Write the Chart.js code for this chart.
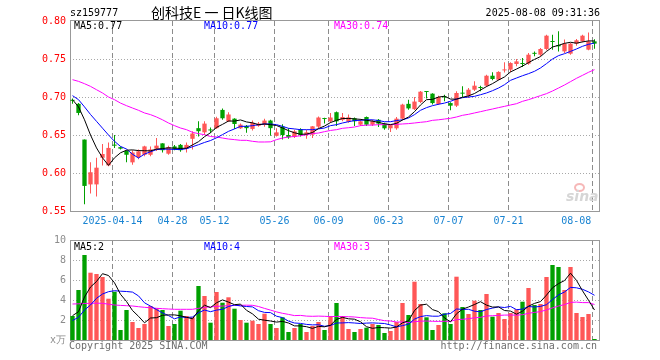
<!DOCTYPE html>
<html><head><meta charset="utf-8">
<script src="https://cdn.jsdelivr.net/npm/chart.js@4.4.1/dist/chart.umd.min.js"></script>
<style>
html,body{margin:0;padding:0;background:#fff;}
#wrap{position:relative;width:660px;height:360px;overflow:hidden;background:#fff;}
canvas{position:absolute;left:0;top:0;}
.t{position:absolute;white-space:pre;font-family:"DejaVu Sans Mono",monospace;font-size:10px;line-height:12px;color:#000;}
</style></head><body>
<div id="wrap">
<canvas id="pc" width="660" height="360"></canvas>
<canvas id="vc" width="660" height="360"></canvas>
<div class="t" style="left:70px;top:7px;">sz159777</div>
<div class="t" style="left:151px;top:3px;font-family:'Noto Sans CJK SC',sans-serif;font-size:14px;line-height:18px;">创科技E 一 日K线图</div>
<div class="t" style="right:60px;top:7px;">2025-08-08 09:31:36</div>
<div class="t" style="left:74px;top:20px;color:#000;">MA5:0.77</div>
<div class="t" style="left:204px;top:20px;color:#0000ff;">MA10:0.77</div>
<div class="t" style="left:334px;top:20px;color:#ff00ff;">MA30:0.74</div>
<div class="t" style="left:74px;top:241px;color:#000;">MA5:2</div>
<div class="t" style="left:204px;top:241px;color:#0000ff;">MA10:4</div>
<div class="t" style="left:334px;top:241px;color:#ff00ff;">MA30:3</div>
<div class="t" style="left:69px;top:340px;color:#6e6e6e;">Copyright 2025 SINA.COM</div>
<div class="t" style="right:63px;top:340px;color:#6e6e6e;">http://finance.sina.com.cn</div>
<div style="position:absolute;left:574px;top:183px;width:7px;height:5px;border:2px solid #f6b8b8;border-radius:50%;"></div>
<div class="t" style="left:566px;top:189px;font-family:'DejaVu Sans',sans-serif;font-style:italic;font-weight:bold;font-size:14px;line-height:14px;color:#d6d6d6;">sina</div>
</div>
<script>
// ---------- data ----------
const dates = ['04-02','04-03','04-07','04-08','04-09','04-10','04-11','04-14','04-15','04-16',
'04-17','04-18','04-21','04-22','04-23','04-24','04-25','04-28','04-29','04-30',
'05-06','05-07','05-08','05-09','05-12','05-13','05-14','05-15','05-16','05-19',
'05-20','05-21','05-22','05-23','05-26','05-27','05-28','05-29','05-30','06-03',
'06-04','06-05','06-06','06-09','06-10','06-11','06-12','06-13','06-16','06-17',
'06-18','06-19','06-20','06-23','06-24','06-25','06-26','06-27','06-30','07-01',
'07-02','07-03','07-04','07-07','07-08','07-09','07-10','07-11','07-14','07-15',
'07-16','07-17','07-18','07-21','07-22','07-23','07-24','07-25','07-28','07-29',
'07-30','07-31','08-01','08-04','08-05','08-06','08-07','08-08'];

const openP = [0.696,0.691,0.644,0.585,0.585,0.620,0.610,0.637,0.634,0.629,
0.614,0.621,0.624,0.624,0.632,0.639,0.6254,0.635,0.637,0.632,
0.645,0.659,0.6535,0.657,0.659,0.683,0.668,0.6715,0.6588,0.662,
0.658,0.662,0.6636,0.669,0.649,0.661,0.650,0.6474,0.6579,0.6505,
0.6505,0.661,0.672,0.668,0.680,0.670,0.6675,0.672,0.6636,0.6737,
0.6636,0.670,0.665,0.6588,0.6588,0.6715,0.691,0.684,0.6934,0.7075,
0.7044,0.6908,0.6998,0.692,0.6886,0.7046,0.7018,0.7096,0.7119,0.7149,
0.728,0.7228,0.735,0.736,0.7434,0.7436,0.7439,0.757,0.7557,0.7632,
0.7726,0.7684,0.760,0.757,0.7702,0.7732,0.7623,0.7732];
const highP = [0.698,0.692,0.644,0.614,0.620,0.638,0.640,0.650,0.635,0.630,
0.630,0.631,0.636,0.635,0.646,0.639,0.636,0.637,0.638,0.640,
0.655,0.668,0.668,0.660,0.674,0.685,0.680,0.672,0.665,0.663,
0.669,0.667,0.6715,0.670,0.659,0.664,0.659,0.657,0.659,0.657,
0.662,0.6745,0.6728,0.679,0.681,0.679,0.677,0.673,0.671,0.6745,
0.670,0.671,0.666,0.6636,0.6737,0.691,0.6965,0.700,0.708,0.7075,
0.705,0.7018,0.703,0.693,0.7075,0.714,0.712,0.7206,0.7149,0.7294,
0.7325,0.7338,0.7456,0.7456,0.750,0.7513,0.758,0.760,0.7645,0.782,
0.782,0.7864,0.7755,0.771,0.7763,0.782,0.785,0.776];
const lowP = [0.691,0.676,0.559,0.573,0.569,0.610,0.609,0.633,0.631,0.614,
0.611,0.618,0.622,0.622,0.629,0.627,0.624,0.630,0.628,0.627,
0.631,0.648,0.650,0.6526,0.658,0.670,0.667,0.658,0.658,0.653,
0.656,0.661,0.661,0.649,0.648,0.644,0.645,0.646,0.648,0.645,
0.646,0.659,0.665,0.666,0.662,0.668,0.666,0.662,0.662,0.662,
0.662,0.6605,0.657,0.654,0.657,0.670,0.6833,0.683,0.692,0.698,
0.690,0.6895,0.6943,0.6825,0.6868,0.700,0.6987,0.708,0.7075,0.7132,
0.7219,0.7219,0.7321,0.7325,0.7404,0.7395,0.7425,0.7535,0.7535,0.7614,
0.7623,0.760,0.758,0.7557,0.7675,0.772,0.7614,0.7636];
const closeP = [0.695,0.679,0.583,0.601,0.607,0.625,0.633,0.636,0.632,0.624,
0.627,0.6285,0.635,0.631,0.636,0.630,0.634,0.632,0.630,0.637,
0.652,0.655,0.665,0.656,0.672,0.672,0.677,0.6645,0.6636,0.659,
0.666,0.665,0.669,0.659,0.6535,0.650,0.647,0.6548,0.650,0.6535,
0.6614,0.673,0.671,0.673,0.668,0.6737,0.6732,0.668,0.668,0.6636,
0.668,0.665,0.6588,0.663,0.6715,0.690,0.685,0.694,0.707,0.7066,
0.692,0.700,0.6995,0.6886,0.7053,0.7044,0.7096,0.7149,0.7118,0.728,
0.7237,0.733,0.7355,0.7447,0.7469,0.7434,0.7557,0.7568,0.7632,0.7807,
0.7724,0.7667,0.7702,0.7702,0.7746,0.7807,0.7732,0.7702];

const ma5 = [0.6965,0.687,0.670,0.650,0.633,0.620,0.610,0.620,0.6266,0.630,
0.6304,0.6295,0.6293,0.6291,0.6315,0.6321,0.6332,0.6326,0.6324,0.6326,
0.637,0.6412,0.6478,0.653,0.660,0.664,0.6684,0.6683,0.6698,0.6672,
0.666,0.6636,0.6645,0.6636,0.6625,0.6593,0.6557,0.6529,0.651,0.6511,
0.6533,0.6585,0.6618,0.6664,0.6693,0.6717,0.6718,0.6712,0.6706,0.6693,
0.6682,0.6666,0.6647,0.6637,0.6653,0.6697,0.6737,0.6807,0.6895,0.6965,
0.6969,0.6999,0.701,0.6973,0.6971,0.6996,0.7015,0.7046,0.7092,0.7137,
0.7176,0.7223,0.7264,0.733,0.7368,0.7407,0.7452,0.7495,0.7532,0.760,
0.7658,0.768,0.7706,0.772,0.7708,0.7725,0.7738,0.7738];
const ma10 = [0.7018,0.6965,0.687,0.677,0.668,0.659,0.650,0.6417,0.635,0.6315,
0.6247,0.6197,0.6249,0.6279,0.6308,0.6313,0.6314,0.631,0.6308,0.632,
0.6346,0.6372,0.6402,0.6427,0.6463,0.6505,0.6548,0.658,0.6614,0.6614,
0.6623,0.6636,0.6645,0.6645,0.6636,0.6614,0.6588,0.658,0.657,0.657,
0.657,0.658,0.6592,0.6623,0.6636,0.6658,0.6675,0.669,0.6693,0.670,
0.670,0.669,0.6675,0.6675,0.669,0.670,0.6724,0.6768,0.6825,0.686,
0.6886,0.6904,0.692,0.6943,0.6974,0.6991,0.700,0.7009,0.703,0.7053,
0.7083,0.7118,0.7162,0.7219,0.725,0.728,0.7307,0.7338,0.7382,0.7439,
0.750,0.7544,0.757,0.760,0.7632,0.7667,0.7693,0.771];
const ma30 = [0.7228,0.7206,0.7175,0.714,0.7096,0.7053,0.700,0.6965,0.692,0.6886,
0.6855,0.6825,0.679,0.6768,0.6737,0.670,0.6658,0.6623,0.6592,0.657,
0.6535,0.6518,0.6504,0.648,0.6474,0.646,0.6447,0.6439,0.643,0.643,
0.6417,0.6408,0.6408,0.641,0.6439,0.646,0.6474,0.648,0.649,0.6504,
0.6518,0.6526,0.6544,0.656,0.657,0.6588,0.6596,0.6605,0.6623,0.663,
0.663,0.6636,0.6636,0.6636,0.664,0.6645,0.665,0.6658,0.6667,0.6675,
0.6693,0.670,0.671,0.672,0.6737,0.6759,0.6772,0.679,0.6807,0.6825,
0.6842,0.686,0.6877,0.6895,0.6912,0.6943,0.6965,0.6991,0.7018,0.7044,
0.7079,0.7118,0.7158,0.7202,0.7246,0.7285,0.7325,0.736];

const volume = [2.4,5.0,8.5,6.73,6.6,6.3,4.13,4.83,1.0,3.0,
1.8,1.2,1.6,3.4,3.17,3.0,1.4,1.6,2.93,2.4,
2.27,5.4,4.4,1.73,4.8,3.73,4.27,3.13,2.0,1.73,
1.93,1.6,2.63,1.6,1.2,2.27,0.8,1.2,1.6,0.8,
1.4,1.8,1.0,2.4,3.7,2.4,1.1,0.8,1.1,1.23,
1.6,1.5,0.7,0.9,1.8,3.7,2.5,5.83,3.6,2.27,
1.0,1.5,2.67,1.6,6.33,3.3,2.6,3.93,3.0,4.6,
2.33,2.7,2.1,2.7,3.07,3.83,5.2,3.5,3.6,6.3,
7.5,7.3,5.0,7.3,2.7,2.3,2.6,0.1];
const volMa5 = [2.43,2.83,4.3,5.3,5.85,6.63,6.45,5.72,4.57,3.85,
2.95,2.37,1.72,2.2,2.23,2.47,2.51,2.51,2.42,2.27,
2.12,2.92,3.48,3.24,3.72,4.01,3.79,3.53,3.59,2.97,
2.61,2.08,1.98,1.9,1.79,1.86,1.7,1.41,1.41,1.33,
1.16,1.36,1.32,1.48,2.06,2.26,2.12,2.08,1.82,1.33,
1.17,1.25,1.23,1.19,1.3,1.72,1.92,2.95,3.49,3.58,
3.04,2.84,2.21,1.81,2.62,3.08,3.3,3.55,3.83,3.49,
3.29,3.31,2.95,2.89,2.58,2.88,3.38,3.66,3.84,4.49,
5.22,5.64,5.94,6.68,5.96,4.92,3.98,3.0];
const volMa10 = [1.95,2.27,3.0,3.5,4.17,4.6,4.83,4.93,4.88,4.85,
4.79,4.41,3.72,3.39,3.04,2.71,2.44,2.12,2.31,2.25,
2.3,2.72,3.0,2.83,2.99,3.07,3.35,3.5,3.41,3.35,
3.31,2.93,2.76,2.74,2.38,2.24,1.89,1.7,1.66,1.56,
1.51,1.53,1.37,1.45,1.7,1.71,1.74,1.7,1.65,1.69,
1.71,1.68,1.65,1.5,1.31,1.44,1.58,2.09,2.34,2.44,
2.38,2.38,2.58,2.65,3.1,3.06,3.07,2.88,2.82,3.05,
3.19,3.31,3.25,3.36,3.03,3.09,3.35,3.3,3.36,3.53,
4.05,4.51,4.8,5.26,5.22,5.07,4.81,4.47];
const volMa30 = [3.6,3.62,3.65,3.67,3.68,3.67,3.58,3.5,3.46,3.43,
3.4,3.33,3.27,3.22,3.17,3.13,3.1,3.07,3.07,3.07,
3.07,3.17,3.27,3.31,3.36,3.4,3.43,3.45,3.47,3.48,
3.47,3.35,3.16,2.99,2.81,2.67,2.56,2.44,2.46,2.39,
2.37,2.39,2.37,2.34,2.36,2.34,2.33,2.3,2.24,2.2,
2.18,2.05,1.93,1.9,1.8,1.8,1.74,1.83,1.88,1.9,
1.87,1.86,1.87,1.87,2.04,2.07,2.13,2.22,2.27,2.4,
2.43,2.46,2.49,2.5,2.48,2.53,2.67,2.76,2.84,3.01,
3.21,3.4,3.54,3.76,3.79,3.74,3.74,3.55];

const dateTickDates = ['04-14','04-28','05-12','05-26','06-09','06-23','07-07','07-21','08-08'];
const dateTickLabels = ['2025-04-14','04-28','05-12','05-26','06-09','06-23','07-07','07-21','08-08'];
const priceTicks = [0.55,0.60,0.65,0.70,0.75,0.80];
const priceGrid = [0.60,0.65,0.70,0.75];
const volTicks = [0,2,4,6,8,10];
const volTickLabels = ['x万','2','4','6','8','10'];
const volGrid = [2,4,6,8];

// ---------- styling ----------
const RED = '#ff5757', GREEN = '#00a000';
const MONO = "'DejaVu Sans Mono', monospace";
const tickIdx = dateTickDates.map(d => dates.indexOf(d));
const LINE_SHIFT = 1/3;               // date line sits 2px left of candle centre
const X_MIN = -2.5/6, X_MAX = 87.75;  // 6px per trading day
const colors = dates.map((_, i) => closeP[i] >= openP[i] ? RED : GREEN);
const pts = arr => arr.map((v, i) => ({x: i, y: v}));
const vLinePos = tickIdx.map(i => i - LINE_SHIFT);

function makeGridPlugin(hVals, topOff) {
  return {
    id: 'sinaGrid',
    beforeDatasetsDraw(chart) {
      const ctx = chart.ctx, a = chart.chartArea;
      const x = chart.scales.x, y = chart.scales.y;
      ctx.save();
      ctx.lineWidth = 1;
      ctx.strokeStyle = '#a8a8a8';
      ctx.setLineDash([1, 2]);
      hVals.forEach(v => {
        const py = Math.floor(y.getPixelForValue(v)) + 0.5;
        ctx.beginPath(); ctx.moveTo(a.left, py); ctx.lineTo(a.right, py); ctx.stroke();
      });
      ctx.restore();
      ctx.save();
      ctx.lineWidth = 1;
      ctx.strokeStyle = '#8c8c8c';
      ctx.setLineDash([5, 3]);
      vLinePos.forEach(v => {
        const px = Math.floor(x.getPixelForValue(v)) + 0.5;
        ctx.beginPath(); ctx.moveTo(px, a.top); ctx.lineTo(px, a.bottom); ctx.stroke();
      });
      ctx.restore();
      ctx.save();
      ctx.lineWidth = 1;
      ctx.strokeStyle = '#999999';
      const top = a.top + topOff;
      ctx.strokeRect(a.left + 0.5, top, a.right - a.left, a.bottom + 0.5 - top);
      ctx.restore();
    }
  };
}

const lineDs = (arr, color) => ({type: 'line', data: pts(arr), borderColor: color, borderWidth: 1,
  pointRadius: 0, tension: 0, fill: false, order: 0});

const yAfterFit = s => { s.width = 70; s.paddingTop = 0; s.paddingBottom = 0; };

// ---------- price chart ----------
new Chart(document.getElementById('pc'), {
  type: 'bar',
  data: { datasets: [
    lineDs(ma5, '#000000'),
    lineDs(ma10, '#0000ff'),
    lineDs(ma30, '#ff00ff'),
    {type: 'bar', data: dates.map((_, i) => ({x: i, y: [openP[i], closeP[i]]})),
     backgroundColor: colors, grouped: false, maxBarThickness: 5, minBarLength: 1, inflateAmount: 0, borderWidth: 0, order: 1},
    {type: 'bar', data: dates.map((_, i) => ({x: i, y: [lowP[i], highP[i]]})),
     backgroundColor: colors, grouped: false, maxBarThickness: 1, inflateAmount: 0, borderWidth: 0, order: 2}
  ]},
  options: {
    responsive: false, animation: false, devicePixelRatio: 1, events: [],
    layout: {padding: {left: 0, right: 61, top: 21, bottom: 129}, autoPadding: false},
    plugins: {legend: {display: false}, tooltip: {enabled: false}},
    scales: {
      x: {type: 'linear', position: 'bottom', min: X_MIN, max: X_MAX, offset: false,
        grid: {display: false, drawTicks: false, offset: false}, border: {display: false},
        afterBuildTicks: s => { s.ticks = tickIdx.map((i, k) => ({value: i - LINE_SHIFT - (k === tickIdx.length - 1 ? 2.72 : 0)})); },
        afterFit: s => { s.height = 20; s.paddingLeft = 0; s.paddingRight = 0; },
        ticks: {autoSkip: false, maxRotation: 0, minRotation: 0, padding: 4, color: '#1a84d2',
          font: {family: MONO, size: 10}, callback: (v, k) => dateTickLabels[k]}},
      y: {type: 'linear', position: 'left', min: 0.55, max: 0.80,
        grid: {display: false, drawTicks: false}, border: {display: false},
        afterBuildTicks: s => { s.ticks = priceTicks.map(v => ({value: v})); },
        afterFit: yAfterFit,
        ticks: {padding: 4, color: '#ff0000', font: {family: MONO, size: 10}, callback: v => v.toFixed(2)}}
    }
  },
  plugins: [makeGridPlugin(priceGrid, -0.5)]
});

// ---------- volume chart ----------
new Chart(document.getElementById('vc'), {
  type: 'bar',
  data: { datasets: [
    lineDs(volMa5, '#000000'),
    lineDs(volMa10, '#0000ff'),
    lineDs(volMa30, '#ff00ff'),
    {type: 'bar', data: pts(volume), backgroundColor: colors, grouped: false, maxBarThickness: 5,
     inflateAmount: 0, borderWidth: 0, order: 1}
  ]},
  options: {
    responsive: false, animation: false, devicePixelRatio: 1, events: [],
    layout: {padding: {left: 0, right: 61, top: 240, bottom: 20}, autoPadding: false},
    plugins: {legend: {display: false}, tooltip: {enabled: false}},
    scales: {
      x: {type: 'linear', display: false, min: X_MIN, max: X_MAX, offset: false, grid: {offset: false}},
      y: {type: 'linear', position: 'left', min: 0, max: 10,
        grid: {display: false, drawTicks: false}, border: {display: false},
        afterBuildTicks: s => { s.ticks = volTicks.map(v => ({value: v})); },
        afterFit: yAfterFit,
        ticks: {padding: 4, color: '#8c8c8c', font: {family: MONO, size: 10}, callback: (v, k) => volTickLabels[k]}}
    }
  },
  plugins: [makeGridPlugin(volGrid, 0.5)]
});
</script>
</body></html>
